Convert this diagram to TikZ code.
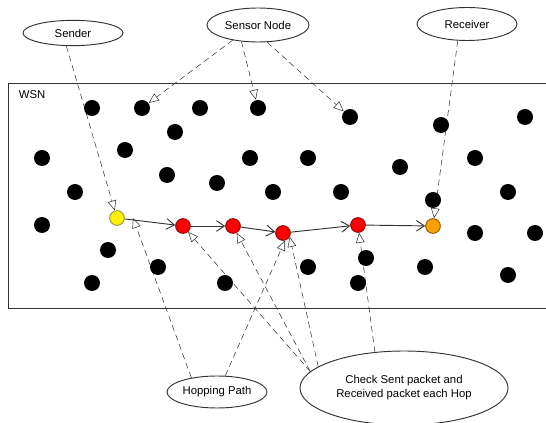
\documentclass[tikz,border=0pt]{standalone}
\usepackage{fontspec}
\setmainfont{Liberation Sans}
\usetikzlibrary{shapes.geometric,arrows.meta,backgrounds}
\definecolor{hoporange}{RGB}{255,160,0}

\begin{document}
\begin{tikzpicture}[x=0.75pt,y=-0.75pt,line width=0.7pt,font=\fontsize{8.5}{10.5}\selectfont,
    sensor node/.style={circle,fill=black,inner sep=0pt,minimum size=12pt},
    hop node/.style={circle,draw=#1!55!black,fill=#1,inner sep=0pt,minimum size=11pt},
    note node/.style={ellipse,draw=black!80,inner sep=0pt,align=center},
    hop edge/.style={draw=black!80,-{Straight Barb[length=6pt,width=8pt]}},
    note edge/.style={draw=black!80,dash pattern=on 4.5pt off 3pt,-{Triangle[open,length=7.5pt,width=6.5pt]}}]
    \useasboundingbox (0,0) rectangle (546,423);

    \draw[black!80] (8,83) rectangle (552,308);
    \node[anchor=west] (wsn) at (14,95) {WSN};

    \foreach \x/\y [count=\i] in {92/108,142/108,200/108,258/108,350/117,441/125,525/117,175/132,
        42/158,125/150,250/158,308/158,400/167,475/158,167/175,217/183,75/192,273/192,341/192,
        433/200,508/192,42/225,475/233,535/233,108/250,366/258,158/267,308/267,425/267,508/275,
        92/283,225/283,358/283}
        \node[sensor node] (s\i) at (\x,\y) {};

    \node[hop node=yellow] (src) at (117,218) {};
    \node[hop node=red] (h1) at (183,226) {};
    \node[hop node=red] (h2) at (233,226) {};
    \node[hop node=red] (h3) at (283,233) {};
    \node[hop node=red] (h4) at (358,225) {};
    \node[hop node=hoporange] (dst) at (433,226) {};
    \coordinate (tap) at (133,218);

    \node[note node,minimum width=75pt,minimum height=19pt] (sender) at (73,33) {Sender};
    \node[note node,minimum width=76.5pt,minimum height=25.5pt] (sensor) at (258,25) {Sensor Node};
    \node[note node,minimum width=75pt,minimum height=24.75pt] (receiver) at (467,24) {Receiver};
    \node[note node,minimum width=75pt,minimum height=24pt] (hopping) at (217,392) {Hopping Path};
    \node[note node,minimum width=156pt,minimum height=55.5pt] (check) at (404,388)
        {Check Sent packet and\\Received packet each Hop};

    \path
        (src) edge[hop edge] (h1)
        (h1) edge[hop edge] (h2)
        (h2) edge[hop edge] (h3)
        (h3) edge[hop edge] (h4)
        (h4) edge[hop edge] (dst)
        ;

    \begin{pgfonlayer}{background}
    \path
        (sender.243) edge[note edge] (src)
        (sensor.211) edge[note edge] (s2)
        (sensor.225) edge[note edge] (s4)
        (sensor.298) edge[note edge] (s5)
        (receiver.241) edge[note edge] (dst)
        (hopping.151) edge[note edge] (tap)
        (hopping.63) edge[note edge] (h3.-75)
        (check.170) edge[note edge] (h1)
        (check.170) edge[note edge] (h2)
        (check.166) edge[note edge] (h3.-30)
        (check.129) edge[note edge] (h4)
        ;
    \end{pgfonlayer}
\end{tikzpicture}
\end{document}
